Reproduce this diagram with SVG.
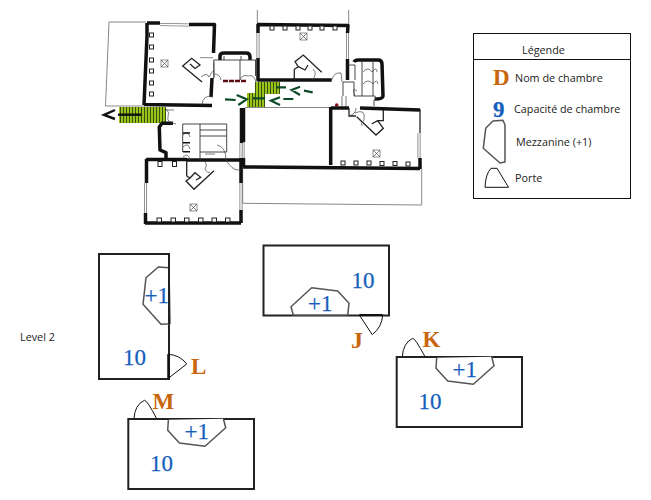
<svg xmlns="http://www.w3.org/2000/svg" width="651" height="500" viewBox="0 0 651 500">
<style>
.bg{fill:#fff}
.w{fill:none;stroke:#111;stroke-width:3.5;stroke-linejoin:round}
.m{fill:none;stroke:#222;stroke-width:1.3}
.f{fill:none;stroke:#333;stroke-width:.9}
.t{fill:none;stroke:#444;stroke-width:.7}
.g{fill:none;stroke:#888;stroke-width:1}
.gg{fill:none;stroke:#777;stroke-width:3}
.wi{fill:none;stroke:#fff;stroke-width:1.4}
.sq{fill:#fff;stroke:#222;stroke-width:1}
.x{fill:#fff;stroke:#777;stroke-width:.8}
.stair{fill:url(#h)}
.ar{fill:none;stroke:#0d4a26;stroke-width:2.2}
.ak{fill:none;stroke:#111;stroke-width:2.4}
.room{fill:#fff;stroke:#222;stroke-width:2}
.mez{fill:#fff;stroke:#555;stroke-width:1.5;stroke-linejoin:round}
.door{fill:none;stroke:#111;stroke-width:1}
.cap{font-family:"Liberation Serif",serif;font-size:23px;fill:#1560bd;stroke:#1560bd;stroke-width:.25}
.nm{font-family:"Liberation Serif",serif;font-size:23px;font-weight:bold;fill:#c8660e}
.lb{font-family:"Open Sans",sans-serif;font-size:10.8px;fill:#222}
</style>
<defs>
<pattern id="h" width="3" height="6" patternUnits="userSpaceOnUse"><rect width="3" height="6" fill="#9bc31c"/><rect width="1" height="6" fill="#35500a"/></pattern>
</defs>
<rect class="bg" width="651" height="500"/>
<g id="plan">
<path class="g" d="M146,22H109L105.500,106H144"/>
<path class="g" d="M257.300,10V24M348.700,10V25"/>
<path class="w" d="M147,23V36L144,105M147,23H160M189,24.500H214.500L213.500,53M212,78L211,97M144,104.500L212,105.500"/>
<path class="gg" d="M160,24.500L189,25"/><path class="wi" d="M160,24.500L189,25"/>
<g class="sq"><rect x="149.500" y="33" width="4" height="4"/><rect x="149.500" y="45" width="4" height="4"/><rect x="149.500" y="58" width="4" height="4"/><rect x="149.500" y="69" width="4" height="4"/><rect x="149.500" y="81" width="4" height="4"/><rect x="149.500" y="92" width="4" height="4"/></g>
<rect class="x" x="161" y="60" width="7" height="7"/><path class="t" d="M161,60l7,7m0-7l-7,7"/>
<path class="m" d="M202,82L182.700,66L191.700,58.300L200,65L195,68.500L190,64"/><path class="g" d="M200,57.700H213"/>
<path class="t" d="M201,77Q207,72 209,77Q211,73 214,70M213,97Q203,94 202,105M214,62V78"/>
<path class="w" d="M220,60V56Q220,53 224,53H246Q250,53 250,57V60"/>
<path class="f" d="M213.500,60H256M213.800,60V78M240,60V80M255.500,60V76M224,60V56M241,60V56"/>
<path class="t" d="M214,74Q220,74 221,80M240,80Q242,74 248,76M248,76Q254,74 256,82"/>
<path d="M223,81H246" stroke="#5a0d12" stroke-width="2.500" stroke-dasharray="5 1" fill="none"/>
<rect class="stair" x="119" y="107" width="47" height="16"/>
<path class="ak" d="M115,110L104,115L115,119"/><path class="ak" d="M118,114.700H141.700"/>
<rect class="stair" x="255" y="82" width="25" height="12"/><rect class="stair" x="247" y="93" width="18" height="14"/>
<path class="ar" d="M276,87.300H286M300,86.700L291.700,90L300,95M304,90.700L312.700,92.300M280,97.300L271,100.700L280,105M283.300,99H293.300M225,99.300L235.700,100M236.700,95L246.700,99.300L238.300,105M253,98.300H265"/>
<path class="w" d="M258,24V33M258,58V80H331.700M257,24.500L348,25.500L347.500,33M347.500,59V80"/>
<path class="gg" d="M258,33V58M347.500,33V59"/><path class="wi" d="M258,33V58M347.500,33V59"/>
<g class="sq"><rect x="270" y="26" width="4" height="4"/><rect x="283" y="26" width="4" height="4"/><rect x="296" y="26" width="4" height="4"/><rect x="308" y="26" width="4" height="4"/><rect x="320" y="26" width="4" height="4"/><rect x="333" y="26" width="4" height="4"/></g>
<rect class="x" x="300" y="33" width="7" height="7"/><path class="t" d="M300,33l7,7m0-7l-7,7"/>
<path class="m" d="M294.300,80V69.300L298.300,66.700L295,61.700L303.300,55L321.700,72.300M298.300,66.700L305,70L308,65"/>
<path class="t" d="M312,80Q318,74 313,69M331.700,80Q334,72 341,73L342,82"/>
<path class="w" d="M354,62Q355,60 358,60H378Q382,60 382,64L383,96Q383,99 375,99"/>
<path class="f" d="M348,65H355V80M343,82H354V96H375V100H374V106M362,60V96M373,60V96M343,82V96"/>
<path class="t" d="M363,72Q368,66 372,72Q377,66 377,72M363,84Q368,78 373,84Q377,78 378,84M355,96Q351,86 357,91M342,96V106M346,96V106"/>
<path class="g" d="M245,107.500H330"/>
<circle cx="336.700" cy="105" r="1.800" fill="#8f1118"/>
<path class="w" d="M330.700,107V165M331,108H349M360,108L420,110M243.500,108V142M243.500,158V167M243,167L420,168.500M420,158V169"/>
<path class="m" d="M420,109V133"/><path class="gg" d="M419,133V158M243,142V158"/><path class="wi" d="M419,133V158M243,142V158"/>
<g class="sq"><rect x="341" y="161" width="4" height="4"/><rect x="354" y="161" width="4" height="4"/><rect x="367" y="161" width="4" height="4"/><rect x="380" y="161.500" width="4" height="4"/><rect x="393" y="161.500" width="4" height="4"/><rect x="406" y="162" width="4" height="4"/></g>
<rect class="x" x="373" y="150" width="7" height="7"/><path class="t" d="M373,150l7,7m0-7l-7,7"/>
<path class="m" d="M356.700,116.700L376,135L383.300,128.300L377.700,120.700L371.700,124M377.700,120.700L383.300,120.700V110M349,108V116H356"/>
<path class="t" d="M349,116Q356,114 356,108M355,113Q366,108 364,120Q360,124 362,126"/>
<path class="g" d="M242.700,167V203.300L421.700,205V169"/>
<path class="w" d="M173,123.300H162L159.300,127L160,150L166,152.700V159"/>
<path class="w" d="M146,159.500H187M187,160H241M146.500,159V183M145.500,213V224M241.500,108V143M241,158V183M241,210V223M145,223H241"/>
<path class="gg" d="M145.500,183V213M241,143V158M241,183V210"/><path class="wi" d="M145.500,183V213M241,143V158M241,183V210"/>
<path class="f" d="M182.700,124H226.700V152M182.700,124V152M200,124V160M200,130H226.700M200,136H226.700M200,152H226.700"/>
<path class="t" d="M166,109Q170,112 168,117Q166,122 176,124M166,110H174M183,135Q188,130 190,137M183,147Q188,142 190,149M183,157Q188,152 190,160M217,145Q226,147 226,160M226,160Q232,170 238,170H241M205,154H215"/>
<path class="ak" style="stroke-width:1.500" d="M183,133H190M183,142.700H190M183,151.700H190"/>
<g class="sq"><rect x="157" y="218" width="4.500" height="4"/><rect x="171" y="218" width="4.500" height="4"/><rect x="184.500" y="218" width="4.500" height="4"/><rect x="198.500" y="218" width="4.500" height="4"/><rect x="212" y="218" width="4.500" height="4"/><rect x="225.500" y="218" width="4.500" height="4"/><rect x="158" y="161.500" width="4" height="5"/><rect x="172.500" y="161.500" width="4" height="5"/></g>
<rect class="x" x="190" y="204" width="7" height="7"/><path class="t" d="M190,204l7,7m0-7l-7,7"/>
<path class="m" d="M186.700,161V176L190,178L186,181L194,189.300L214,170.700M190,178L195,172.700L200.700,177.300L196,180"/>
<path class="t" d="M205,161Q208,166 205,169Q208,174 210,172"/>
</g>
<g id="legend">
<rect x="473.500" y="33.500" width="157" height="165" fill="#fff" stroke="#111" stroke-width="1"/>
<path d="M473.500,59.500H630.500" stroke="#111" stroke-width="1"/>
<text class="lb" x="522" y="54">Légende</text>
<text class="nm" x="493" y="85">D</text>
<text class="lb" x="515" y="81.500">Nom de chambre</text>
<text class="cap" x="493" y="117" style="font-weight:bold">9</text>
<text class="lb" x="514" y="113">Capacité de chambre</text>
<path class="mez" d="M493,121L503,120.300L505,125V162L500,163L483.300,148.300L485.700,128.300Z"/>
<text class="lb" x="516" y="145.500">Mezzanine (+1)</text>
<path class="door" d="M485,187.300H508.500L497,168.300H491Q485.500,174 485,187.300Z"/>
<text class="lb" x="515" y="182">Porte</text>
</g>
<text id="level" class="lb" x="20" y="341">Level 2</text>
<g id="room-L">
<rect class="room" x="99" y="254" width="70" height="125"/>
<path class="mez" d="M169,267.700L158.300,267L146,277.700L143,304.300L161,324.300L170,323.700Z"/>
<path d="M169,267V324" stroke="#222" stroke-width="2"/>
<text class="cap" x="144.500" y="303">+1</text>
<text class="cap" x="123" y="365">10</text>
<path d="M168.500,354V378" stroke="#111" stroke-width="2.500"/>
<path class="door" d="M168.300,354.300Q180,355 186.700,364L168.300,378.300"/>
<text class="nm" x="191" y="373.500">L</text>
</g>
<g id="room-J">
<rect class="room" x="263.500" y="245.500" width="125.500" height="70"/>
<path class="mez" d="M293.300,315L291,306.700L311.700,287.700L337.700,291L349,303.300L347.700,315Z"/>
<text class="cap" x="308" y="311">+1</text>
<text class="cap" x="351.500" y="288">10</text>
<path d="M359.300,315H382.700" stroke="#111" stroke-width="2"/>
<path class="door" d="M359.300,315L372.300,334.700Q382,327 382.700,315"/>
<text class="nm" x="351" y="348" style="font-size:24px">J</text>
</g>
<g id="room-K">
<rect class="room" x="396.700" y="357" width="125.300" height="70"/>
<path class="mez" d="M436.700,357.700L436,368.300L447.700,381L473.300,384.300L494,365.700L491.700,356.700"/>
<text class="cap" x="452.500" y="377">+1</text>
<text class="cap" x="418.500" y="409">10</text>
<path class="door" d="M402.300,357Q403,343 412.700,338.300Q415,338 425,356.700"/>
<text class="nm" x="422.500" y="347">K</text>
</g>
<g id="room-M">
<rect class="room" x="128.300" y="419" width="125.700" height="70"/>
<path class="mez" d="M168.400,419.700L167.700,430.300L179.400,443L205,446.300L225.700,427.700L223.400,418.700"/>
<text class="cap" x="184.500" y="439">+1</text>
<text class="cap" x="150" y="471">10</text>
<path class="door" d="M134,419Q134.500,405 144.400,400.300Q147,400 156.700,418.700"/>
<text class="nm" x="152.500" y="409">M</text>
</g>
</svg>
